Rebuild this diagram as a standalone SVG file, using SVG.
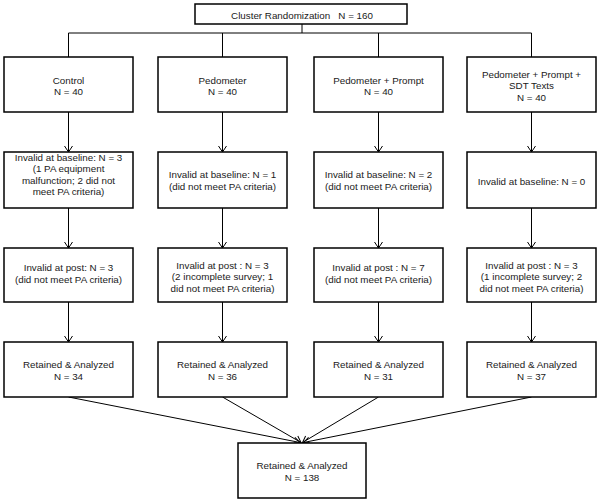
<svg xmlns="http://www.w3.org/2000/svg" width="600" height="503" viewBox="0 0 600 503">
<defs>
<style>
.box{fill:#fff;stroke:#000;stroke-width:1.5}
.t{font-family:"Liberation Sans",Arial,sans-serif;font-size:9.8px;fill:#1a1a1a;text-anchor:middle}
.ln{fill:none;stroke:#000;stroke-width:1}
.ar{fill:none;stroke:#000;stroke-width:1;marker-end:url(#arr)}
</style>
<marker id="arr" markerUnits="userSpaceOnUse" viewBox="-8 -5 10 10" refX="0" refY="0" markerWidth="10" markerHeight="10" orient="auto">
<path d="M-6,-4 L0,0 L-6,4" fill="none" stroke="#000" stroke-width="1"/>
</marker>
</defs>
<rect width="600" height="503" fill="#fff"/>
<g id="connectors">
<path class="ln" d="M302,24 V33 M68.5,33 H531.5 M68.5,33 V57 M222.5,33 V57 M378.5,33 V57 M531.5,33 V57"/>
<path class="ar" d="M68.5,112 V152"/>
<path class="ar" d="M222.5,112 V152"/>
<path class="ar" d="M378.5,112 V152"/>
<path class="ar" d="M531.5,112 V152"/>
<path class="ar" d="M68.5,208 V248"/>
<path class="ar" d="M222.5,208 V248"/>
<path class="ar" d="M378.5,208 V248"/>
<path class="ar" d="M531.5,208 V248"/>
<path class="ar" d="M68.5,302 V342"/>
<path class="ar" d="M222.5,302 V342"/>
<path class="ar" d="M378.5,302 V342"/>
<path class="ar" d="M531.5,302 V342"/>
<path class="ar" d="M68.5,397 L300,442.5"/>
<path class="ar" d="M222.5,397 L301,442.5"/>
<path class="ar" d="M378.5,397 L302.5,442.5"/>
<path class="ar" d="M531.5,397 L303.5,442.5"/>
</g>
<g id="randomization">
<rect class="box" x="195" y="4" width="212" height="20"/>
<text class="t" x="302" y="18.6" xml:space="preserve">Cluster Randomization   N = 160</text>
</g>
<g id="control">
<rect class="box" x="4" y="57" width="129" height="55"/>
<text class="t" x="68.5" y="83.5">Control</text>
<text class="t" x="68.5" y="95">N = 40</text>
</g>
<g id="pedometer">
<rect class="box" x="158" y="57" width="129" height="55"/>
<text class="t" x="222.5" y="83.5">Pedometer</text>
<text class="t" x="222.5" y="95">N = 40</text>
</g>
<g id="pedometer-prompt">
<rect class="box" x="314" y="57" width="129" height="55"/>
<text class="t" x="378.5" y="83.5">Pedometer + Prompt</text>
<text class="t" x="378.5" y="95">N = 40</text>
</g>
<g id="pedometer-prompt-sdt">
<rect class="box" x="467" y="57" width="129" height="55"/>
<text class="t" x="531.5" y="77.5">Pedometer + Prompt +</text>
<text class="t" x="531.5" y="89.3">SDT Texts</text>
<text class="t" x="531.5" y="101.1">N = 40</text>
</g>
<g id="baseline-1">
<rect class="box" x="4" y="152" width="129" height="56"/>
<text class="t" x="68.5" y="160.5">Invalid at baseline: N = 3</text>
<text class="t" x="68.5" y="172">(1 PA equipment</text>
<text class="t" x="68.5" y="183.5">malfunction; 2 did not</text>
<text class="t" x="68.5" y="195">meet PA criteria)</text>
</g>
<g id="baseline-2">
<rect class="box" x="158" y="152" width="129" height="56"/>
<text class="t" x="222.5" y="178">Invalid at baseline: N = 1</text>
<text class="t" x="222.5" y="189.5">(did not meet PA criteria)</text>
</g>
<g id="baseline-3">
<rect class="box" x="314" y="152" width="129" height="56"/>
<text class="t" x="378.5" y="178">Invalid at baseline: N = 2</text>
<text class="t" x="378.5" y="189.5">(did not meet PA criteria)</text>
</g>
<g id="baseline-4">
<rect class="box" x="467" y="152" width="129" height="56"/>
<text class="t" x="531.5" y="185">Invalid at baseline: N = 0</text>
</g>
<g id="post-1">
<rect class="box" x="4" y="248" width="129" height="54"/>
<text class="t" x="68.5" y="271">Invalid at post: N = 3</text>
<text class="t" x="68.5" y="282.5">(did not meet PA criteria)</text>
</g>
<g id="post-2">
<rect class="box" x="158" y="248" width="129" height="54"/>
<text class="t" x="222.5" y="268.5">Invalid at post : N = 3</text>
<text class="t" x="222.5" y="280">(2 incomplete survey; 1</text>
<text class="t" x="222.5" y="291.5">did not meet PA criteria)</text>
</g>
<g id="post-3">
<rect class="box" x="314" y="248" width="129" height="54"/>
<text class="t" x="378.5" y="271">Invalid at post : N = 7</text>
<text class="t" x="378.5" y="282.5">(did not meet PA criteria)</text>
</g>
<g id="post-4">
<rect class="box" x="467" y="248" width="129" height="54"/>
<text class="t" x="531.5" y="268.5">Invalid at post : N = 3</text>
<text class="t" x="531.5" y="280">(1 incomplete survey; 2</text>
<text class="t" x="531.5" y="291.5">did not meet PA criteria)</text>
</g>
<g id="retained-1">
<rect class="box" x="4" y="342" width="129" height="55"/>
<text class="t" x="68.5" y="367.6">Retained &amp; Analyzed</text>
<text class="t" x="68.5" y="379.6">N = 34</text>
</g>
<g id="retained-2">
<rect class="box" x="158" y="342" width="129" height="55"/>
<text class="t" x="222.5" y="367.6">Retained &amp; Analyzed</text>
<text class="t" x="222.5" y="379.6">N = 36</text>
</g>
<g id="retained-3">
<rect class="box" x="314" y="342" width="129" height="55"/>
<text class="t" x="378.5" y="367.6">Retained &amp; Analyzed</text>
<text class="t" x="378.5" y="379.6">N = 31</text>
</g>
<g id="retained-4">
<rect class="box" x="467" y="342" width="129" height="55"/>
<text class="t" x="531.5" y="367.6">Retained &amp; Analyzed</text>
<text class="t" x="531.5" y="379.6">N = 37</text>
</g>
<g id="retained-total">
<rect class="box" x="238" y="443" width="128" height="55"/>
<text class="t" x="302" y="468.6">Retained &amp; Analyzed</text>
<text class="t" x="302" y="480.6">N = 138</text>
</g>
</svg>
